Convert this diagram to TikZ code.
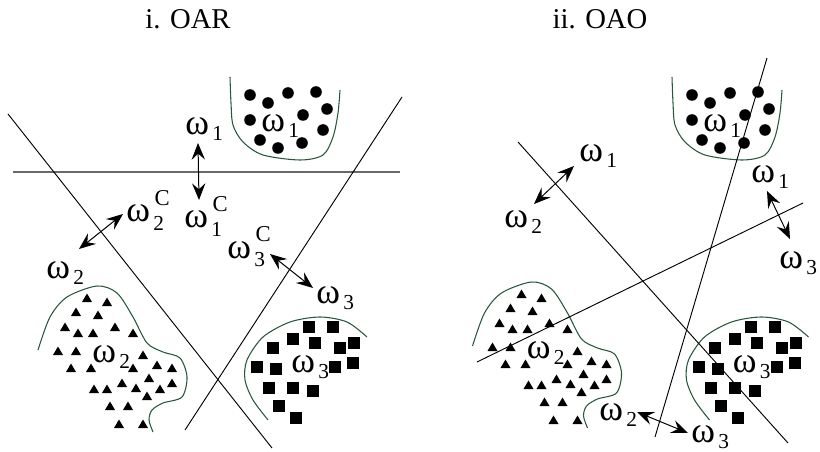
\documentclass[tikz,border=0pt]{standalone}
\usepackage{fontspec}
\setmainfont{Liberation Serif}
\usetikzlibrary{arrows.meta}
\definecolor{boundgreen}{RGB}{40,88,60}
\definecolor{sepgray}{RGB}{105,105,105}
\newcommand{\wsub}[1]{ω\kern2.5pt\raisebox{-4.5pt}{\fontsize{16}{16}\selectfont #1}}
\newcommand{\wsup}[1]{ω\kern2.5pt\raisebox{-6.5pt}{\fontsize{16}{16}\selectfont\rlap{#1}}\raisebox{12.5pt}{\fontsize{17}{17}\selectfont\kern1pt C}}

\begin{document}
\begin{tikzpicture}[x=0.75pt,y=-0.75pt,
  title/.style={font=\fontsize{21.5}{21.5}\selectfont, anchor=base, inner sep=0pt},
  wlab/.style={font=\fontsize{27}{27}\selectfont, anchor=base west, inner sep=0pt},
  bound/.style={draw=boundgreen, line width=0.8pt},
  sep/.style={line width=0.7pt},
  hsep/.style={draw=sepgray, line width=1.2pt},
  dbl/.style={{Stealth[length=12.5pt,width=10pt,inset=4.5pt]}-{Stealth[length=12.5pt,width=10pt,inset=4.5pt]}, line width=0.75pt}
]
\useasboundingbox (0,0) rectangle (820,452);

\node[title] (oar) at (188,29) {i. OAR};
\node[title] (oao) at (600,29) {ii. OAO};

% class 1
\foreach \sx/\pn in {0/L,442/R}{
  \begin{scope}[shift={(\sx,0)}]
    \draw[bound] plot[smooth] coordinates {(230,77) (231,103) (233,125) (243,142) (263,155) (300,160) (323,155) (333,137) (338,113) (340,90)};
    \foreach \x/\y in {250/95,288/93,316/92,268/103,327/109,250/120,303/115,323/130,260/140,278/148,302/143}
      \fill (\x,\y) circle[radius=5.8];
    \node[wlab] (cls1\pn) at (261,132) {\wsub{1}};
  \end{scope}
}

% class 2
\foreach \sx/\sy/\pn in {0/0/L,434.5/-4/R}{
  \begin{scope}[shift={(\sx,\sy)}]
    \draw[bound] plot[smooth] coordinates {(38,350) (50,317) (67,297) (97,286) (117,293) (133,317) (147,343) (163,352) (180,358) (187,377) (182,397) (163,403) (152,410) (149,420) (153,432)};
    \foreach \x/\y in {87/298,107/302,76/312,98/315,65/327,78/333,93/333,115/327,133/333,58/351,76/351,143/355,71/368,91/368,133/368,157/365,172/368,94/389,107/389,122/383,136/388,149/378,160/389,172/383,147/396,110/406,128/406,119/424,143/424}
      \fill (\x,\y) ++(-5,4) -- ++(10,0) -- ++(-5,-8.5) -- cycle;
    \node[wlab] (cls2\pn) at (92,362) {\wsub{2}};
  \end{scope}
}

% class 3
\foreach \sx/\pn in {0/L,441.5/R}{
  \begin{scope}[shift={(\sx,0)}]
    \draw[bound] plot[smooth] coordinates {(367,337) (347,322) (320,317) (290,322) (263,337) (247,360) (245,380) (253,400) (268,420)};
    \foreach \x/\y in {309/327,333/327,293/339,315/343,273/348,340/348,354/343,257/367,276/369,335/367,353/363,269/388,293/388,313/391,279/406,296/418}
      \fill (\x-6,\y-6) rectangle ++(12,12);
    \node[wlab] (cls3\pn) at (291,372) {\wsub{3}};
  \end{scope}
}

% one against rest
\draw[hsep] (13,172) -- (400,172);
\draw[sep] (8,114) -- (272,448);
\draw[sep] (185,430) -- (402,97);

\node[wlab] (w1) at (185,135) {\wsub{1}};
\node[wlab] (w1c) at (184,228) {\wsup{1}};
\node[wlab] (w2c) at (126,222) {\wsup{2}};
\node[wlab] (w2) at (46,278) {\wsub{2}};
\node[wlab] (w3c) at (227,258) {\wsup{3}};
\node[wlab] (w3) at (316,303) {\wsub{3}};

\coordinate (p1a) at (198,143);
\coordinate (p1b) at (199,200);
\coordinate (p2a) at (79,249);
\coordinate (p2b) at (123,214);
\coordinate (p3a) at (270,254);
\coordinate (p3b) at (313,288);
\draw[dbl] (p1a) -- (p1b);
\draw[dbl] (p2a) -- (p2b);
\draw[dbl] (p3a) -- (p3b);

% one against one
\draw[sep] (767,58) -- (655,437);
\draw[sep] (518,142) -- (788,443);
\draw[sep] (477,362) -- (803,203);

\node[wlab] (v1a) at (579,162) {\wsub{1}};
\node[wlab] (v2a) at (504,228) {\wsub{2}};
\node[wlab] (v1b) at (751,183) {\wsub{1}};
\node[wlab] (v3b) at (779,268) {\wsub{3}};
\node[wlab] (v2c) at (599,420) {\wsub{2}};
\node[wlab] (v3c) at (691,442) {\wsub{3}};

\coordinate (q1a) at (534,204);
\coordinate (q1b) at (574,166);
\coordinate (q2a) at (767,191);
\coordinate (q2b) at (790,239);
\coordinate (q3a) at (637,412);
\coordinate (q3b) at (688,433);
\draw[dbl] (q1a) -- (q1b);
\draw[dbl] (q2a) -- (q2b);
\draw[dbl] (q3a) -- (q3b);
\end{tikzpicture}
\end{document}
